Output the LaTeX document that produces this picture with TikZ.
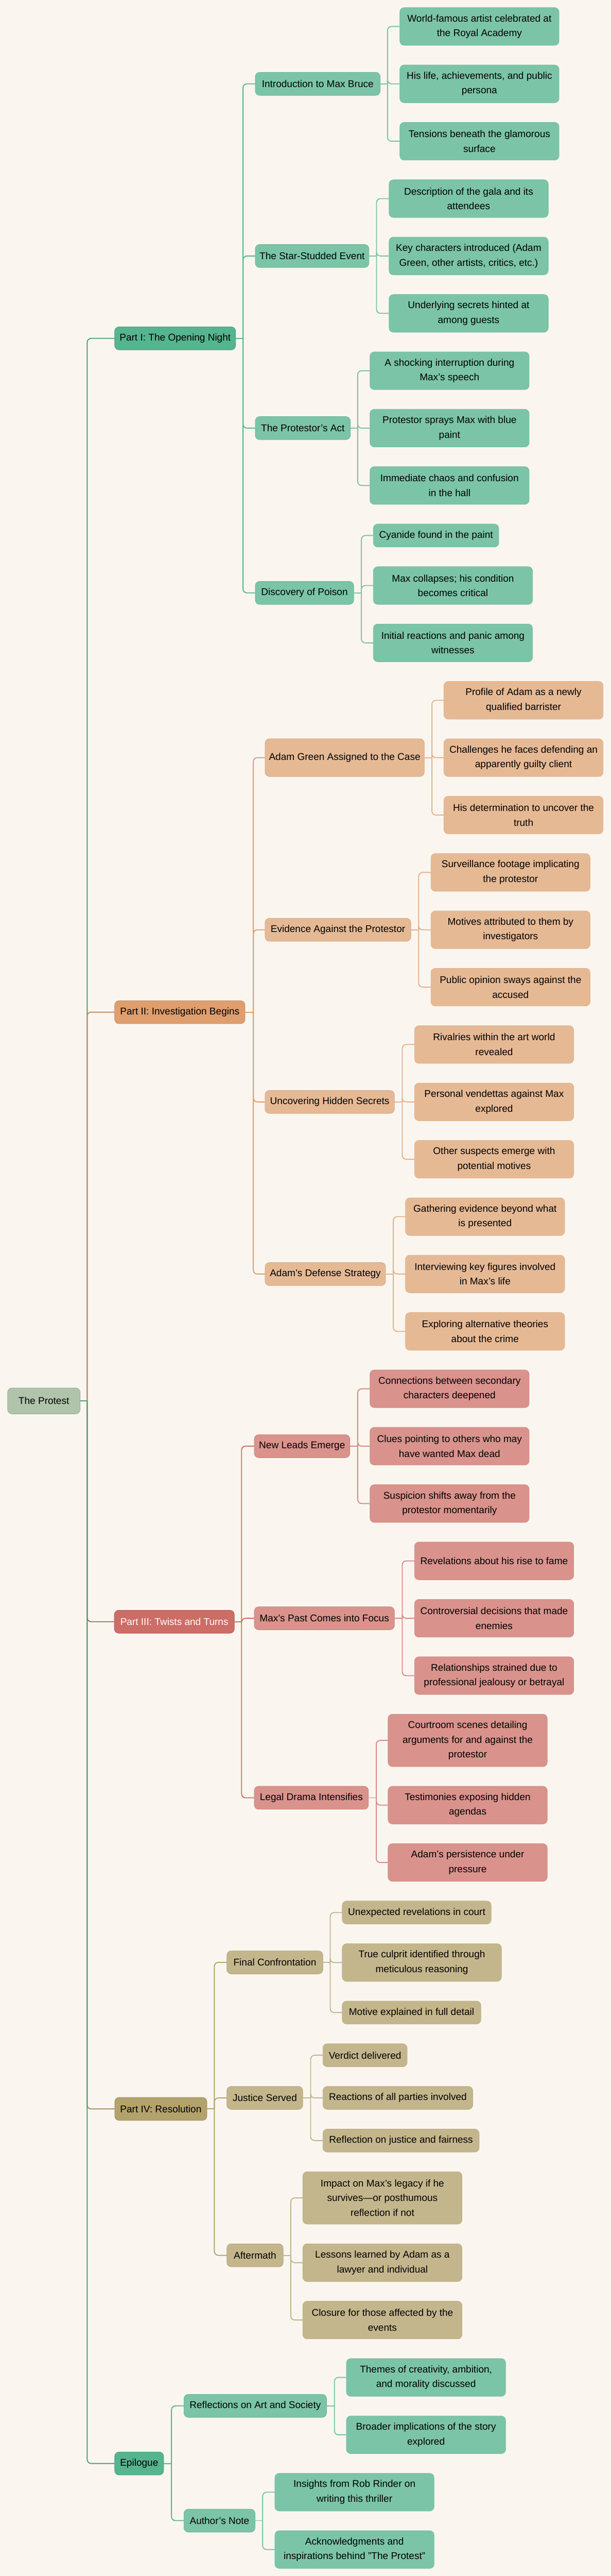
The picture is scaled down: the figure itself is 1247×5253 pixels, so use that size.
\documentclass[tikz,border=0pt]{standalone}
\usepackage{fontspec}
\setmainfont{Liberation Sans}
\definecolor{bg}{HTML}{FAF6EF}
\definecolor{rootF}{HTML}{AFC4AB}
\definecolor{gA}{HTML}{56B48F}
\definecolor{gL}{HTML}{7BC4A8}
\definecolor{oA}{HTML}{DF9E6D}
\definecolor{oL}{HTML}{E6B995}
\definecolor{rA}{HTML}{CC6D66}
\definecolor{rL}{HTML}{D9938C}
\definecolor{yA}{HTML}{B3A26C}
\definecolor{yL}{HTML}{C4B68C}
\tikzset{
  box/.style={rectangle, rounded corners=9pt, inner sep=0pt, align=center,
    font=\fontsize{20}{30}\selectfont, line width=0.8pt, text=black},
  rootbox/.style={box, fill=rootF, draw=rootF!88!black},
  partbox/.style={box, fill=#1, draw=#1!88!black, minimum height=47pt},
  subbox/.style={box, fill=#1, draw=#1!90!black, minimum height=47pt},
  leafbox/.style={box, fill=#1, draw=#1!96!black, minimum width=325pt, minimum height=77pt},
  conn/.style={line width=2pt, rounded corners=8pt},
}
\begin{document}
\begin{tikzpicture}[x=1pt,y=-1pt]
\fill[bg] (0,0) rectangle (1247,5253);
\useasboundingbox (0,0) rectangle (1247,5253);

% ---------- root and parts ----------
\node[rootbox, minimum width=148pt, minimum height=53pt] (root) at (89.5,2856.7) {The Protest};
\node[partbox=gA, minimum width=247pt] (p1) at (357.5,690) {Part I: The Opening Night};
\node[partbox=oA, minimum width=266pt] (p2) at (367,2064) {Part II: Investigation Begins};
\node[partbox=rA, minimum width=245pt, text=white] (p3) at (355.8,3307) {Part III: Twists and Turns};
\node[partbox=yA, minimum width=188pt] (p4) at (328.2,4300.5) {Part IV: Resolution};
\node[partbox=gA, minimum width=100pt] (p5) at (284,5023.5) {Epilogue};

% ---------- second level ----------
\node[subbox=gL, minimum width=255pt] (s11) at (648.5,171) {Introduction to Max Bruce};
\node[subbox=gL, minimum width=232pt] (s12) at (637,522) {The Star-Studded Event};
\node[subbox=gL, minimum width=194pt] (s13) at (618,873) {The Protestor’s Act};
\node[subbox=gL, minimum width=201pt] (s14) at (621.5,1209) {Discovery of Poison};

\node[subbox=oL, minimum width=325pt, minimum height=77pt] (s21) at (703.5,1545) {Adam Green Assigned to the Case};
\node[subbox=oL, minimum width=297.5pt] (s22) at (689.75,1896) {Evidence Against the Protestor};
\node[subbox=oL, minimum width=264pt] (s23) at (673,2247) {Uncovering Hidden Secrets};
\node[subbox=oL, minimum width=246pt] (s24) at (664,2598) {Adam’s Defense Strategy};

\node[subbox=rL, minimum width=195pt] (s31) at (616.5,2949) {New Leads Emerge};
\node[subbox=rL, minimum width=286pt] (s32) at (662,3300) {Max’s Past Comes into Focus};
\node[subbox=rL, minimum width=233pt] (s33) at (635.5,3666) {Legal Drama Intensifies};

\node[subbox=yL, minimum width=196pt] (s41) at (561,4001.7) {Final Confrontation};
\node[subbox=yL, minimum width=155pt] (s42) at (540.5,4278) {Justice Served};
\node[subbox=yL, minimum width=115pt] (s43) at (520.5,4599) {Aftermath};

\node[subbox=gL, minimum width=291pt] (s51) at (521,4906) {Reflections on Art and Society};
\node[subbox=gL, minimum width=145pt] (s52) at (448,5140) {Author’s Note};

% ---------- leaves ----------
\node[leafbox=gL] (l111) at (978.5,54) {World-famous artist celebrated at\\the Royal Academy};
\node[leafbox=gL] (l112) at (978.5,171) {His life, achievements, and public\\persona};
\node[leafbox=gL] (l113) at (978.5,288) {Tensions beneath the glamorous\\surface};

\node[leafbox=gL] (l121) at (956.5,405) {Description of the gala and its\\attendees};
\node[leafbox=gL] (l122) at (956.5,522) {Key characters introduced (Adam\\Green, other artists, critics, etc.)};
\node[leafbox=gL] (l123) at (956.5,639) {Underlying secrets hinted at\\among guests};

\node[leafbox=gL] (l131) at (917.5,756) {A shocking interruption during\\Max’s speech};
\node[leafbox=gL] (l132) at (917.5,873) {Protestor sprays Max with blue\\paint};
\node[leafbox=gL] (l133) at (917.5,990) {Immediate chaos and confusion\\in the hall};

\node[leafbox=gL, minimum width=256pt, minimum height=47pt] (l141) at (890,1092) {Cyanide found in the paint};
\node[leafbox=gL] (l142) at (924.5,1194) {Max collapses; his condition\\becomes critical};
\node[leafbox=gL] (l143) at (924.5,1311) {Initial reactions and panic among\\witnesses};

\node[leafbox=oL] (l211) at (1068.5,1428) {Profile of Adam as a newly\\qualified barrister};
\node[leafbox=oL] (l212) at (1068.5,1545) {Challenges he faces defending an\\apparently guilty client};
\node[leafbox=oL] (l213) at (1068.5,1662) {His determination to uncover the\\truth};

\node[leafbox=oL] (l221) at (1042,1779) {Surveillance footage implicating\\the protestor};
\node[leafbox=oL] (l222) at (1042,1896) {Motives attributed to them by\\investigators};
\node[leafbox=oL] (l223) at (1042,2013) {Public opinion sways against the\\accused};

\node[leafbox=oL] (l231) at (1008.5,2130) {Rivalries within the art world\\revealed};
\node[leafbox=oL] (l232) at (1008.5,2247) {Personal vendettas against Max\\explored};
\node[leafbox=oL] (l233) at (1008.5,2364) {Other suspects emerge with\\potential motives};

\node[leafbox=oL] (l241) at (990,2481) {Gathering evidence beyond what\\is presented};
\node[leafbox=oL] (l242) at (990,2598) {Interviewing key figures involved\\in Max’s life};
\node[leafbox=oL] (l243) at (990,2715) {Exploring alternative theories\\about the crime};

\node[leafbox=rL] (l311) at (917.5,2832) {Connections between secondary\\characters deepened};
\node[leafbox=rL] (l312) at (917.5,2949) {Clues pointing to others who may\\have wanted Max dead};
\node[leafbox=rL] (l313) at (917.5,3066) {Suspicion shifts away from the\\protestor momentarily};

\node[leafbox=rL] (l321) at (1008.5,3183) {Revelations about his rise to fame};
\node[leafbox=rL] (l322) at (1008.5,3300) {Controversial decisions that made\\enemies};
\node[leafbox=rL] (l323) at (1008.5,3417) {Relationships strained due to\\professional jealousy or betrayal};

\node[leafbox=rL, minimum height=107pt] (l331) at (954.5,3549) {Courtroom scenes detailing\\arguments for and against the\\protestor};
\node[leafbox=rL] (l332) at (954.5,3681) {Testimonies exposing hidden\\agendas};
\node[leafbox=rL] (l333) at (954.5,3798) {Adam’s persistence under\\pressure};

\node[leafbox=yL, minimum width=304pt, minimum height=47pt] (l411) at (850.5,3900) {Unexpected revelations in court};
\node[leafbox=yL] (l412) at (861,4002) {True culprit identified through\\meticulous reasoning};
\node[leafbox=yL, minimum width=283pt, minimum height=47pt] (l413) at (840,4104) {Motive explained in full detail};

\node[leafbox=yL, minimum width=172pt, minimum height=47pt] (l421) at (745,4191) {Verdict delivered};
\node[leafbox=yL, minimum width=306pt, minimum height=47pt] (l422) at (812,4278) {Reactions of all parties involved};
\node[leafbox=yL, minimum width=319pt, minimum height=47pt] (l423) at (818.5,4365) {Reflection on justice and fairness};

\node[leafbox=yL, minimum height=107pt] (l431) at (780.5,4482) {Impact on Max’s legacy if he\\survives—or posthumous\\reflection if not};
\node[leafbox=yL] (l432) at (780.5,4614) {Lessons learned by Adam as a\\lawyer and individual};
\node[leafbox=yL] (l433) at (780.5,4731) {Closure for those affected by the\\events};

\node[leafbox=gL] (l511) at (869.5,4848) {Themes of creativity, ambition,\\and morality discussed};
\node[leafbox=gL] (l512) at (869.5,4965) {Broader implications of the story\\explored};

\node[leafbox=gL] (l521) at (723.5,5082) {Insights from Rob Rinder on\\writing this thriller};
\node[leafbox=gL] (l522) at (723.5,5199) {Acknowledgments and\\inspirations behind "The Protest"};

% ---------- junction points ----------
\coordinate (rj) at (178,2856.7);
\coordinate (j1) at (496,690);
\coordinate (j2) at (517,2064);
\coordinate (j3) at (493,3307);
\coordinate (j4) at (437.5,4300.5);
\coordinate (j5) at (350,5023.5);
\coordinate (js11) at (791,171);
\coordinate (js12) at (768.5,522);
\coordinate (js13) at (730,873);
\coordinate (js14) at (737.5,1209);
\coordinate (js21) at (881.5,1545);
\coordinate (js22) at (854.5,1896);
\coordinate (js23) at (821,2247);
\coordinate (js24) at (802.7,2598);
\coordinate (js31) at (730,2949);
\coordinate (js32) at (821,3300);
\coordinate (js33) at (768,3666);
\coordinate (js41) at (674,4001.7);
\coordinate (js42) at (634,4278);
\coordinate (js43) at (593.5,4599);
\coordinate (js51) at (682.6,4906);
\coordinate (js52) at (536,5140);

% ---------- connectors: root to parts ----------
\foreach \p/\c in {p1/gA, p2/oA, p3/rA, p4/yA, p5/gA}{
  \draw[conn, \c!88!black] (root.east) -- (rj);
  \draw[conn, \c!88!black] (rj) |- (\p.west);
}

% ---------- connectors: parts to second level ----------
\foreach \p/\j/\c/\kids in {p1/j1/gA/{s11,s12,s13,s14}, p2/j2/oA/{s21,s22,s23,s24},
    p3/j3/rA/{s31,s32,s33}, p4/j4/yA/{s41,s42,s43}, p5/j5/gA/{s51,s52}}{
  \draw[conn, \c] (\p.east) -- (\j);
  \foreach \k in \kids { \draw[conn, \c] (\j) |- (\k.west); }
}

% ---------- connectors: second level to leaves ----------
\foreach \s/\c in {s11/gA, s12/gA, s13/gA, s14/gA, s21/oA, s22/oA, s23/oA, s24/oA,
    s31/rA, s32/rA, s33/rA, s41/yA, s42/yA, s43/yA, s51/gA, s52/gA}{
  \draw[conn, \c!80!white] (\s.east) -- (j\s);
}
\foreach \s/\c/\kids in {s11/gA/{l111,l112,l113}, s12/gA/{l121,l122,l123},
    s13/gA/{l131,l132,l133}, s14/gA/{l141,l142,l143},
    s21/oA/{l211,l212,l213}, s22/oA/{l221,l222,l223},
    s23/oA/{l231,l232,l233}, s24/oA/{l241,l242,l243},
    s31/rA/{l311,l312,l313}, s32/rA/{l321,l322,l323}, s33/rA/{l331,l332,l333},
    s41/yA/{l411,l412,l413}, s42/yA/{l421,l422,l423}, s43/yA/{l431,l432,l433},
    s51/gA/{l511,l512}, s52/gA/{l521,l522}}{
  \foreach \k in \kids { \draw[conn, \c!80!white] (j\s) |- (\k.west); }
}
\end{tikzpicture}
\end{document}
